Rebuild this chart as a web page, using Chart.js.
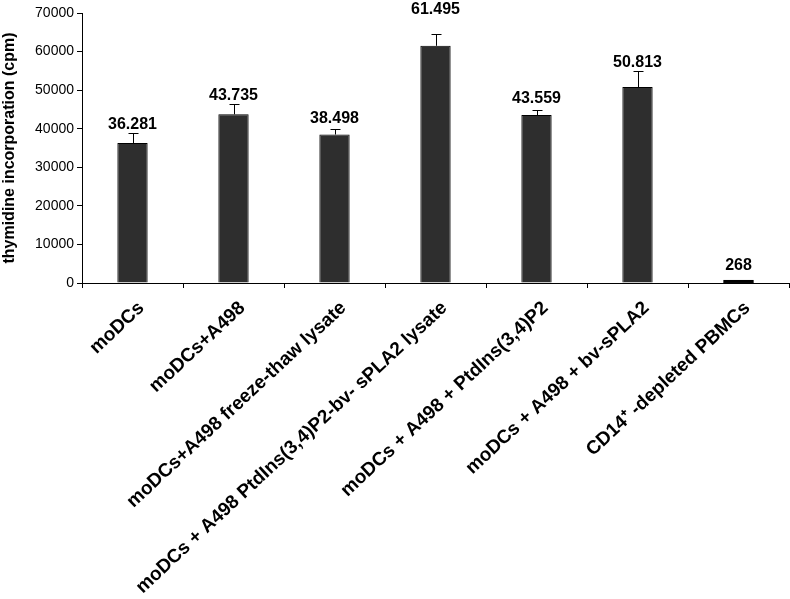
<!DOCTYPE html>
<html>
<head>
<meta charset="utf-8">
<script src="https://cdn.jsdelivr.net/npm/chart.js@4.4.1/dist/chart.umd.min.js"></script>
<style>
  html, body { margin: 0; padding: 0; background: #fff; }
  #wrap { width: 790px; height: 599px; position: relative; }
</style>
</head>
<body>
<div id="wrap"><canvas id="myChart"></canvas></div>
<script>
// data
const categories = [
  'moDCs',
  'moDCs+A498',
  'moDCs+A498 freeze-thaw lysate',
  'moDCs + A498 PtdIns(3,4)P2-bv- sPLA2 lysate',
  'moDCs + A498 + PtdIns(3,4)P2',
  'moDCs + A498 + bv-sPLA2',
  'CD14\u207A -depleted PBMCs'
];
const cpmValues = [36281, 43735, 38498, 61495, 43559, 50813, 268];
const cpmErrors = [2500, 2600, 1300, 3000, 1300, 4100, 0];
const yTicks = [0, 10000, 20000, 30000, 40000, 50000, 60000, 70000];

const fontFamily = '"Liberation Sans", Arial, Helvetica, sans-serif';

// european style thousands separator, as in the figure (36.281)
function formatValue(v) {
  return String(v).replace(/\B(?=(\d{3})+(?!\d))/g, '.');
}

// error bars (upper half only) + value labels
const errorBarPlugin = {
  id: 'errorBars',
  afterDatasetsDraw(chart) {
    const ctx = chart.ctx;
    const yScale = chart.scales.y;
    const meta = chart.getDatasetMeta(0);
    ctx.save();
    ctx.strokeStyle = '#000';
    ctx.lineWidth = 1;
    meta.data.forEach((bar, i) => {
      const x = Math.round(bar.x) + 0.5;
      const yBar = yScale.getPixelForValue(cpmValues[i]);
      const yErr = yScale.getPixelForValue(cpmValues[i] + cpmErrors[i]);
      if (cpmErrors[i] > 0) {
        ctx.beginPath();
        ctx.moveTo(x, yBar);
        ctx.lineTo(x, Math.round(yErr) + 0.5);
        ctx.moveTo(x - 5, Math.round(yErr) + 0.5);
        ctx.lineTo(x + 5, Math.round(yErr) + 0.5);
        ctx.stroke();
      } else {
        // tiny bar: draw it as a thick line like the original
        ctx.fillStyle = '#000';
        ctx.fillRect(bar.x - bar.width / 2, yBar - 2, bar.width, 3);
      }
      // label sits above the bar, or above the error cap if that is higher
      let labelY = Math.min(yBar - 10, yErr - 3);
      if (cpmErrors[i] >= 3000 && cpmValues[i] > 60000) labelY = chart.chartArea.top + 3;
      ctx.fillStyle = '#000';
      ctx.font = 'bold 16px ' + fontFamily;
      ctx.textAlign = 'center';
      ctx.textBaseline = 'bottom';
      ctx.fillText(formatValue(cpmValues[i]), bar.x, labelY + 2);
    });
    ctx.restore();
  }
};

const ctx = document.getElementById('myChart').getContext('2d');
const barChart = new Chart(ctx, {
  type: 'bar',
  data: {
    labels: categories,
    datasets: [{
      label: 'cpm',
      data: cpmValues,
      backgroundColor: '#2e2e2e',
      borderColor: '#000',
      borderWidth: 1,
      barPercentage: 0.3,
      categoryPercentage: 1.0
    }]
  },
  options: {
    responsive: true,
    maintainAspectRatio: false,
    animation: false,
    layout: {
      padding: { top: 13, right: 1, left: 0, bottom: 0 }
    },
    plugins: {
      legend: { display: false },
      tooltip: { enabled: false }
    },
    scales: {
      x: {
        grid: {
          drawOnChartArea: false,
          drawTicks: true,
          tickLength: 5,
          color: '#000',
          offset: true
        },
        border: { color: '#000', width: 1 },
        ticks: {
          color: '#000',
          font: { family: fontFamily, size: 19, weight: 'bold' },
          maxRotation: 43,
          minRotation: 43,
          autoSkip: false,
          padding: 9,
          labelOffset: 9
        },
        afterFit(scale) {
          scale.height = 316;
        }
      },
      y: {
        min: 0,
        max: 70000,
        grid: {
          drawOnChartArea: false,
          drawTicks: true,
          tickLength: 5,
          color: '#000'
        },
        border: { color: '#000', width: 1 },
        afterBuildTicks(scale) {
          scale.ticks = yTicks.map(v => ({ value: v }));
        },
        ticks: {
          color: '#000',
          font: { family: fontFamily, size: 14 },
          padding: 3,
          callback: (v) => String(v)
        },
        title: {
          display: true,
          text: 'thymidine incorporation (cpm)',
          color: '#000',
          font: { family: fontFamily, size: 16, weight: 'bold' },
          padding: { top: 0, bottom: 0 }
        },
        afterFit(scale) {
          scale.width = 82;
        }
      }
    }
  },
  plugins: [errorBarPlugin]
});
</script>
</body>
</html>
